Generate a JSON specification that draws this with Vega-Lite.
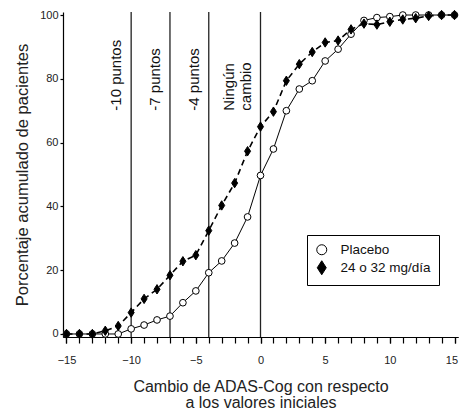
{
  "$schema": "https://vega.github.io/schema/vega-lite/v6.json",
  "width": 395,
  "height": 325,
  "autosize": "none",
  "padding": {"left": 63, "top": 12, "right": 1, "bottom": 76},
  "background": "white",
  "config": {
    "font": "Liberation Sans",
    "view": {"stroke": null},
    "axis": {"grid": false, "labelOverlap": false, "domainColor": "black", "domainWidth": 1.2, "tickColor": "black", "tickWidth": 1.2, "labelColor": "#222", "titleColor": "#222", "titleFontWeight": "normal", "labelFont": "Liberation Sans", "titleFont": "Liberation Sans"},
    "legend": {"orient": "none", "legendX": 244, "legendY": 223, "strokeColor": "black", "strokeWidth": 1, "padding": 8, "labelFontSize": 13.5, "labelFont": "Liberation Sans", "labelColor": "#111", "symbolSize": 100, "symbolStrokeWidth": 1, "rowPadding": 1, "labelOffset": 12}
  },
  "resolve": {"scale": {"x": "shared", "y": "shared"}, "axis": {"x": "independent"}},
  "datasets": {
    "series": [
      {"x": -15, "pct": 0, "grupo": "Placebo"},
      {"x": -14, "pct": 0, "grupo": "Placebo"},
      {"x": -13, "pct": 0, "grupo": "Placebo"},
      {"x": -12, "pct": 0, "grupo": "Placebo"},
      {"x": -11, "pct": 0, "grupo": "Placebo"},
      {"x": -10, "pct": 1.6, "grupo": "Placebo"},
      {"x": -9, "pct": 2.8, "grupo": "Placebo"},
      {"x": -8, "pct": 4.4, "grupo": "Placebo"},
      {"x": -7, "pct": 5.6, "grupo": "Placebo"},
      {"x": -6, "pct": 9.8, "grupo": "Placebo"},
      {"x": -5, "pct": 13.5, "grupo": "Placebo"},
      {"x": -4, "pct": 19.2, "grupo": "Placebo"},
      {"x": -3, "pct": 22.9, "grupo": "Placebo"},
      {"x": -2, "pct": 28.5, "grupo": "Placebo"},
      {"x": -1, "pct": 36.7, "grupo": "Placebo"},
      {"x": 0, "pct": 49.7, "grupo": "Placebo"},
      {"x": 1, "pct": 58, "grupo": "Placebo"},
      {"x": 2, "pct": 70, "grupo": "Placebo"},
      {"x": 3, "pct": 76.8, "grupo": "Placebo"},
      {"x": 4, "pct": 79.4, "grupo": "Placebo"},
      {"x": 5, "pct": 85.6, "grupo": "Placebo"},
      {"x": 6, "pct": 89.3, "grupo": "Placebo"},
      {"x": 7, "pct": 94, "grupo": "Placebo"},
      {"x": 8, "pct": 98.3, "grupo": "Placebo"},
      {"x": 9, "pct": 99.2, "grupo": "Placebo"},
      {"x": 10, "pct": 99.5, "grupo": "Placebo"},
      {"x": 11, "pct": 100, "grupo": "Placebo"},
      {"x": 12, "pct": 100, "grupo": "Placebo"},
      {"x": 13, "pct": 100, "grupo": "Placebo"},
      {"x": 14, "pct": 100, "grupo": "Placebo"},
      {"x": 15, "pct": 100, "grupo": "Placebo"},
      {"x": -15, "pct": 0, "grupo": "24 o 32 mg/día"},
      {"x": -14, "pct": 0, "grupo": "24 o 32 mg/día"},
      {"x": -13, "pct": 0, "grupo": "24 o 32 mg/día"},
      {"x": -12, "pct": 1, "grupo": "24 o 32 mg/día"},
      {"x": -11, "pct": 2.5, "grupo": "24 o 32 mg/día"},
      {"x": -10, "pct": 6.7, "grupo": "24 o 32 mg/día"},
      {"x": -9, "pct": 11, "grupo": "24 o 32 mg/día"},
      {"x": -8, "pct": 14, "grupo": "24 o 32 mg/día"},
      {"x": -7, "pct": 18.4, "grupo": "24 o 32 mg/día"},
      {"x": -6, "pct": 22.8, "grupo": "24 o 32 mg/día"},
      {"x": -5, "pct": 24.7, "grupo": "24 o 32 mg/día"},
      {"x": -4, "pct": 32.4, "grupo": "24 o 32 mg/día"},
      {"x": -3, "pct": 40.3, "grupo": "24 o 32 mg/día"},
      {"x": -2, "pct": 47.3, "grupo": "24 o 32 mg/día"},
      {"x": -1, "pct": 57.3, "grupo": "24 o 32 mg/día"},
      {"x": 0, "pct": 65, "grupo": "24 o 32 mg/día"},
      {"x": 1, "pct": 69.7, "grupo": "24 o 32 mg/día"},
      {"x": 2, "pct": 79.4, "grupo": "24 o 32 mg/día"},
      {"x": 3, "pct": 84.6, "grupo": "24 o 32 mg/día"},
      {"x": 4, "pct": 88.4, "grupo": "24 o 32 mg/día"},
      {"x": 5, "pct": 91.4, "grupo": "24 o 32 mg/día"},
      {"x": 6, "pct": 92, "grupo": "24 o 32 mg/día"},
      {"x": 7, "pct": 95.5, "grupo": "24 o 32 mg/día"},
      {"x": 8, "pct": 97.3, "grupo": "24 o 32 mg/día"},
      {"x": 9, "pct": 97, "grupo": "24 o 32 mg/día"},
      {"x": 10, "pct": 97.9, "grupo": "24 o 32 mg/día"},
      {"x": 11, "pct": 98.6, "grupo": "24 o 32 mg/día"},
      {"x": 12, "pct": 99, "grupo": "24 o 32 mg/día"},
      {"x": 13, "pct": 99.7, "grupo": "24 o 32 mg/día"},
      {"x": 14, "pct": 100, "grupo": "24 o 32 mg/día"},
      {"x": 15, "pct": 100, "grupo": "24 o 32 mg/día"}
    ],
    "refs": [
      {"x": -10, "y": 70, "label": "-10 puntos"},
      {"x": -7, "y": 70, "label": "-7 puntos"},
      {"x": -4, "y": 70, "label": "-4 puntos"},
      {"x": 0, "y": 70, "label": "Ningún\ncambio"}
    ]
  },
  "layer": [
    {
      "data": {"name": "refs"},
      "mark": {"type": "rule", "color": "#222", "strokeWidth": 1.3},
      "encoding": {
        "x": {"field": "x", "type": "quantitative", "scale": {"domain": [-15.27, 15.27], "nice": false, "zero": false},
          "axis": {"orient": "bottom", "values": [-15, -10, -5, 0, 5, 10, 15], "tickSize": 6, "labelPadding": 11, "labelFontSize": 11, "labelFlush": false, "labelOverlap": false,
            "labelAlign": {"condition": {"test": "datum.value == 15", "value": "right"}, "value": "center"},
            "labelOffset": {"condition": {"test": "datum.value == 15", "value": 3}, "value": 0},
            "title": ["Cambio de ADAS-Cog con respecto", "a los valores iniciales"], "titleFontSize": 16, "titleLineHeight": 16, "titlePadding": 13}}
      }
    },
    {
      "data": {"name": "refs"},
      "transform": [{"filter": "datum.x != 0"}],
      "mark": {"type": "text", "angle": 270, "align": "left", "baseline": "bottom", "dy": -7, "fontSize": 15, "color": "#111"},
      "encoding": {
        "x": {"field": "x", "type": "quantitative", "axis": null},
        "y": {"field": "y", "type": "quantitative"},
        "text": {"field": "label"}
      }
    },
    {
      "data": {"name": "refs"},
      "transform": [{"filter": "datum.x == 0"}],
      "mark": {"type": "text", "angle": 270, "align": "left", "baseline": "bottom", "dy": -24, "fontSize": 15, "lineBreak": "\n", "lineHeight": 17, "color": "#111"},
      "encoding": {
        "x": {"field": "x", "type": "quantitative", "axis": null},
        "y": {"field": "y", "type": "quantitative"},
        "text": {"field": "label"}
      }
    },
    {
      "data": {"name": "series"},
      "transform": [{"filter": "datum.grupo == 'Placebo'"}],
      "mark": {"type": "line", "color": "black", "strokeWidth": 1},
      "encoding": {
        "x": {"field": "x", "type": "quantitative", "axis": null},
        "y": {"field": "pct", "type": "quantitative"}
      }
    },
    {
      "data": {"name": "series"},
      "transform": [{"filter": "datum.grupo != 'Placebo'"}],
      "mark": {"type": "line", "color": "black", "strokeWidth": 1.6, "strokeDash": [6, 4]},
      "encoding": {
        "x": {"field": "x", "type": "quantitative", "axis": null},
        "y": {"field": "pct", "type": "quantitative"}
      }
    },
    {
      "data": {"name": "series"},
      "mark": {"type": "point", "filled": true, "strokeWidth": 1, "opacity": 1, "size": 45},
      "encoding": {
        "x": {"field": "x", "type": "quantitative",
          "axis": {"orient": "bottom", "values": [-15,-14,-13,-12,-11,-10,-9,-8,-7,-6,-5,-4,-3,-2,-1,0,1,2,3,4,5,6,7,8,9,10,11,12,13,14,15], "labels": false, "tickSize": 6, "title": null, "domain": true}},
        "y": {
          "field": "pct", "type": "quantitative",
          "scale": {"domain": [-0.95, 100.95], "nice": false, "zero": false},
          "axis": {"values": [0,10,20,30,40,50,60,70,80,90,100], "labelExpr": "datum.value % 20 == 0 ? datum.label : ''", "tickSize": 3, "labelPadding": 2, "labelFontSize": 11, "title": "Porcentaje acumulado de pacientes", "titleFontSize": 16.5, "titlePadding": 9}
        },
        "shape": {"field": "grupo", "type": "nominal", "scale": {"domain": ["Placebo", "24 o 32 mg/día"], "range": ["circle", "M0,-1.4L0.9,0L0,1.4L-0.9,0Z"]}, "legend": {"title": null}},
        "fill": {"field": "grupo", "type": "nominal", "scale": {"domain": ["Placebo", "24 o 32 mg/día"], "range": ["white", "black"]}, "legend": {"title": null}},
        "stroke": {"field": "grupo", "type": "nominal", "scale": {"domain": ["Placebo", "24 o 32 mg/día"], "range": ["black", "black"]}, "legend": {"title": null}}
      }
    }
  ]
}
